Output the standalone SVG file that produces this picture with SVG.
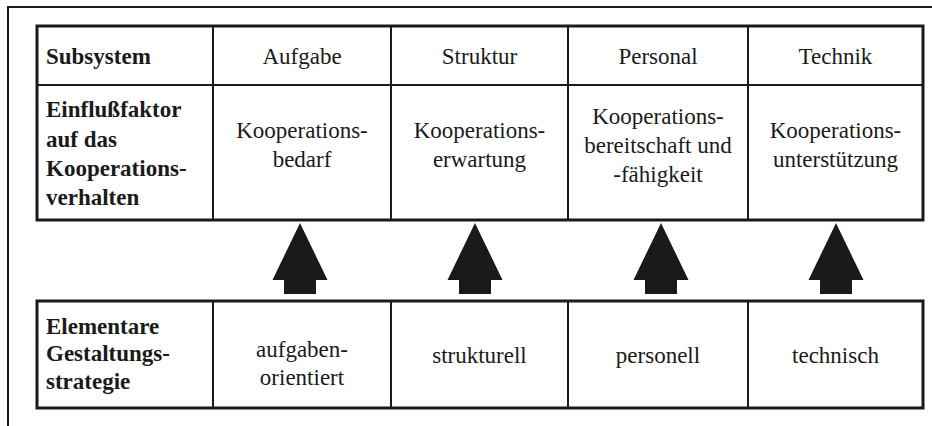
<svg xmlns="http://www.w3.org/2000/svg" width="932" height="426" viewBox="0 0 932 426">
<style>
  text { font-family: "Liberation Serif", "Times New Roman", serif; font-size: 23px; fill: #1a1a1a; }
  .b { font-weight: bold; }
  .c { text-anchor: middle; }
  .cell { fill: #ffffff; stroke: #1a1a1a; stroke-width: 2; }
  .frame { fill: none; stroke: #1a1a1a; stroke-width: 2; }
  .outer { fill: none; stroke: #1a1a1a; stroke-width: 3; }
  .arrow { fill: #1a1a1a; stroke: none; }
</style>
<rect width="932" height="426" fill="#ffffff"/>
<g id="frame">
  <polyline class="frame" points="8,426 8,7 932,7"/>
</g>

<g id="top-table">
  <g id="h-subsystem">
    <rect class="cell" x="37" y="26" width="176" height="59"/>
    <text class="b" x="46" y="64">Subsystem</text>
  </g>
  <g id="h-aufgabe">
    <rect class="cell" x="213" y="26" width="178" height="59"/>
    <text class="c" x="302" y="64">Aufgabe</text>
  </g>
  <g id="h-struktur">
    <rect class="cell" x="391" y="26" width="177" height="59"/>
    <text class="c" x="479.5" y="64">Struktur</text>
  </g>
  <g id="h-personal">
    <rect class="cell" x="568" y="26" width="180" height="59"/>
    <text class="c" x="658" y="64">Personal</text>
  </g>
  <g id="h-technik">
    <rect class="cell" x="748" y="26" width="175" height="59"/>
    <text class="c" x="835.5" y="64">Technik</text>
  </g>

  <g id="e-label">
    <rect class="cell" x="37" y="85" width="176" height="135"/>
    <text class="b" x="46" y="117">Einflußfaktor</text>
    <text class="b" x="46" y="147">auf das</text>
    <text class="b" x="46" y="176">Kooperations-</text>
    <text class="b" x="46" y="205">verhalten</text>
  </g>
  <g id="e-aufgabe">
    <rect class="cell" x="213" y="85" width="178" height="135"/>
    <text class="c" x="302" y="138">Kooperations-</text>
    <text class="c" x="302" y="167">bedarf</text>
  </g>
  <g id="e-struktur">
    <rect class="cell" x="391" y="85" width="177" height="135"/>
    <text class="c" x="479.5" y="138">Kooperations-</text>
    <text class="c" x="479.5" y="167">erwartung</text>
  </g>
  <g id="e-personal">
    <rect class="cell" x="568" y="85" width="180" height="135"/>
    <text class="c" x="658" y="124">Kooperations-</text>
    <text class="c" x="658" y="153">bereitschaft und</text>
    <text class="c" x="658" y="182">-fähigkeit</text>
  </g>
  <g id="e-technik">
    <rect class="cell" x="748" y="85" width="175" height="135"/>
    <text class="c" x="835.5" y="138">Kooperations-</text>
    <text class="c" x="835.5" y="167">unterstützung</text>
  </g>
  <rect class="outer" x="37" y="26" width="886" height="194"/>
</g>

<g id="bottom-table">
  <g id="s-label">
    <rect class="cell" x="37" y="301" width="176" height="107"/>
    <text class="b" x="46" y="334">Elementare</text>
    <text class="b" x="46" y="361">Gestaltungs-</text>
    <text class="b" x="46" y="389">strategie</text>
  </g>
  <g id="s-aufgabe">
    <rect class="cell" x="213" y="301" width="178" height="107"/>
    <text class="c" x="302" y="357">aufgaben-</text>
    <text class="c" x="302" y="385">orientiert</text>
  </g>
  <g id="s-struktur">
    <rect class="cell" x="391" y="301" width="177" height="107"/>
    <text class="c" x="479.5" y="363">strukturell</text>
  </g>
  <g id="s-personal">
    <rect class="cell" x="568" y="301" width="180" height="107"/>
    <text class="c" x="658" y="363">personell</text>
  </g>
  <g id="s-technik">
    <rect class="cell" x="748" y="301" width="175" height="107"/>
    <text class="c" x="835.5" y="363">technisch</text>
  </g>
  <rect class="outer" x="37" y="301" width="886" height="107"/>
</g>

<g id="connectors">
  <path class="arrow" d="M300,223 L327.5,280 L316,280 L316,294 L284,294 L284,280 L272.5,280 Z"/>
  <path class="arrow" d="M475,223 L502.5,280 L491,280 L491,294 L459,294 L459,280 L447.5,280 Z"/>
  <path class="arrow" d="M661,223 L688.5,280 L677,280 L677,294 L645,294 L645,280 L633.5,280 Z"/>
  <path class="arrow" d="M836,223 L863.5,280 L852,280 L852,294 L820,294 L820,280 L808.5,280 Z"/>
</g>
</svg>
